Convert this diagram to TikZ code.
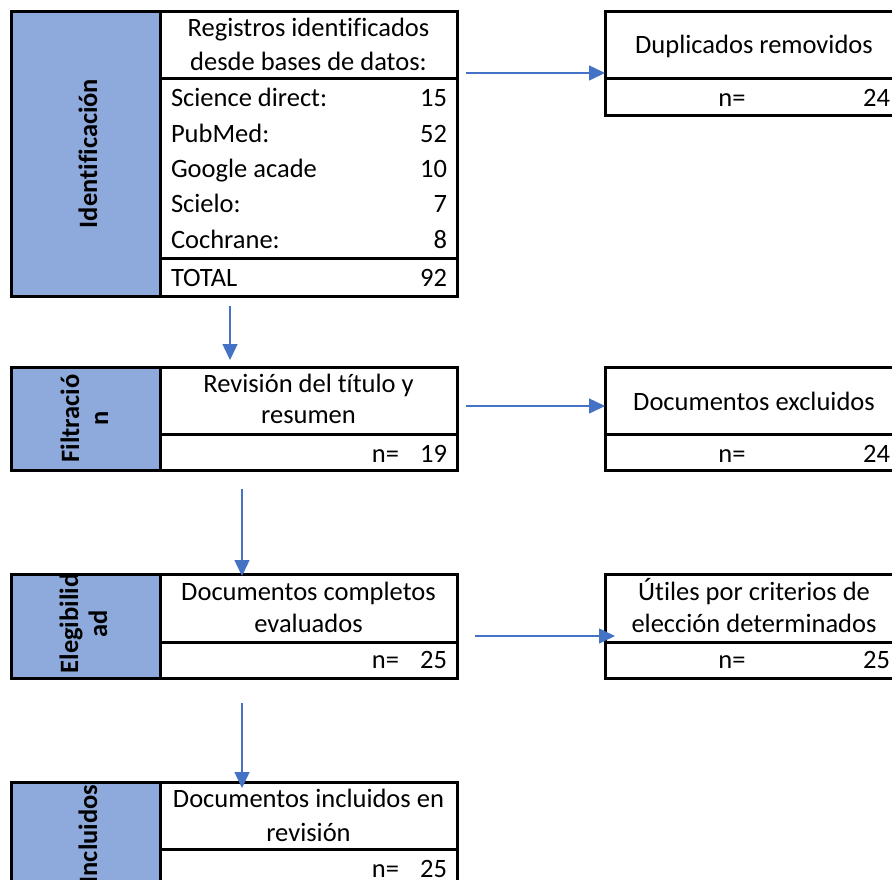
\documentclass[tikz,border=0pt]{standalone}
\usepackage{fontspec}
\setmainfont{Carlito}[Ligatures=CommonOff]
\usetikzlibrary{arrows.meta}
\definecolor{labblue}{RGB}{142,169,219}
\definecolor{arrblue}{RGB}{68,114,196}
\begin{document}
\begin{tikzpicture}[x=1pt,y=-1pt,
  every node/.style={inner sep=0pt, outer sep=0pt, font=\fontsize{26.5}{32}\selectfont},
  labcol/.style={draw=black, line width=3pt, fill=labblue, anchor=north west},
  cellbox/.style={draw=black, line width=3pt, fill=white, anchor=north west},
  sepline/.style={draw=black, line width=3pt},
  lbl/.style={rotate=90, anchor=base, font=\fontsize{26.5}{32}\selectfont\bfseries},
  ctr/.style={anchor=base},
  lft/.style={anchor=base west},
  rgt/.style={anchor=base east},
  flow/.style={draw=arrblue, line width=1.5pt, -{Triangle[length=16pt,width=15pt]}}
]
\useasboundingbox (0,0) rectangle (892,879);
\clip (0,0) rectangle (892,879);

% ---------- Box 1: Identificacion ----------
\node[labcol, minimum width=149pt, minimum height=285pt] (l1) at (11,11) {};
\node[cellbox, minimum width=297pt, minimum height=285pt] (b1) at (160,11) {};
\draw[sepline] (160,78) -- (457,78);
\draw[sepline] (160,258) -- (457,258);
\node[lbl] (t1) at (97,153.5) {Identificación};
\node[ctr] (h1a) at (308.5,36) {Registros identificados};
\node[ctr] (h1b) at (308.5,70) {desde bases de datos:};
\node[lft] (r1a) at (171,106) {Science direct:};
\node[rgt] (v1a) at (447,106) {15};
\node[lft] (r1b) at (171,142) {PubMed:};
\node[rgt] (v1b) at (447,142) {52};
\node[lft] (r1c) at (171,177) {Google acade};
\node[rgt] (v1c) at (447,177) {10};
\node[lft] (r1d) at (171,212) {Scielo:};
\node[rgt] (v1d) at (447,212) {7};
\node[lft] (r1e) at (171,248) {Cochrane:};
\node[rgt] (v1e) at (447,248) {8};
\node[lft] (r1f) at (171,286) {TOTAL};
\node[rgt] (v1f) at (447,286) {92};

% ---------- Duplicados ----------
\node[cellbox, minimum width=298pt, minimum height=104pt] (d1) at (605,11) {};
\draw[sepline] (605,78) -- (903,78);
\node[ctr] (d1t) at (754,53) {Duplicados removidos};
\node[ctr] (d1n) at (732,106) {n=};
\node[rgt] (d1v) at (890,106) {24};

% ---------- Box 2: Filtracion ----------
\node[labcol, minimum width=149pt, minimum height=103pt] (l2) at (11,367) {};
\node[cellbox, minimum width=297pt, minimum height=103pt] (b2) at (160,367) {};
\draw[sepline] (160,434) -- (457,434);
\node[lbl] (t2a) at (79,418.5) {Filtració};
\node[lbl] (t2b) at (108,418.5) {n};
\node[ctr] (h2a) at (308.5,392.5) {Revisión del título y};
\node[ctr] (h2b) at (308.5,423) {resumen};
\node[rgt] (n2) at (399,462) {n=};
\node[rgt] (v2) at (447,462) {19};

% ---------- Excluidos ----------
\node[cellbox, minimum width=298pt, minimum height=103pt] (r2) at (605,367) {};
\draw[sepline] (605,434) -- (903,434);
\node[ctr] (r2t) at (754,410) {Documentos excluidos};
\node[ctr] (r2n) at (732,462) {n=};
\node[rgt] (r2v) at (890,462) {24};

% ---------- Box 3: Elegibilidad ----------
\node[labcol, minimum width=149pt, minimum height=104pt] (l3) at (11,574) {};
\node[cellbox, minimum width=297pt, minimum height=104pt] (b3) at (160,574) {};
\draw[sepline] (160,642) -- (457,642);
\node[lbl] (t3a) at (78,623.5) {Elegibilid};
\node[lbl] (t3b) at (107,623.5) {ad};
\node[ctr] (h3a) at (308.5,600) {Documentos completos};
\node[ctr] (h3b) at (308.5,632) {evaluados};
\node[rgt] (n3) at (399,668) {n=};
\node[rgt] (v3) at (447,668) {25};

% ---------- Utiles ----------
\node[cellbox, minimum width=298pt, minimum height=104pt] (r3) at (605,574) {};
\draw[sepline] (605,642) -- (903,642);
\node[ctr] (r3a) at (754,600) {Útiles por criterios de};
\node[ctr] (r3b) at (754,632) {elección determinados};
\node[ctr] (r3n) at (732,668) {n=};
\node[rgt] (r3v) at (890,668) {25};

% ---------- Box 4: Incluidos ----------
\node[labcol, minimum width=149pt, minimum height=104pt] (l4) at (11,782) {};
\node[cellbox, minimum width=297pt, minimum height=104pt] (b4) at (160,782) {};
\draw[sepline] (160,849) -- (457,849);
\node[lbl] (t4) at (97,834) {Incluidos};
\node[ctr] (h4a) at (308.5,807) {Documentos incluidos en};
\node[ctr] (h4b) at (308.5,841) {revisión};
\node[rgt] (n4) at (399,877) {n=};
\node[rgt] (v4) at (447,877) {25};

% ---------- Arrows ----------
\coordinate (a1s) at (466,73);
\coordinate (a2s) at (466,406);
\coordinate (a3s) at (475,636);
\coordinate (a3e) at (615,636);
\draw[flow] (a1s) -- (a1s -| d1.west);
\draw[flow] (a2s) -- (a2s -| r2.west);
\draw[flow] (a3s) -- (a3e);

\coordinate (v1s) at (230,306);
\coordinate (v1t) at (230,360);
\coordinate (v2s) at (242,489);
\coordinate (v2t) at (242,576);
\coordinate (v3s) at (242,703);
\coordinate (v3t) at (242,788);
\draw[flow] (v1s) -- (v1t);
\draw[flow] (v2s) -- (v2t);
\draw[flow] (v3s) -- (v3t);
\end{tikzpicture}
\end{document}
